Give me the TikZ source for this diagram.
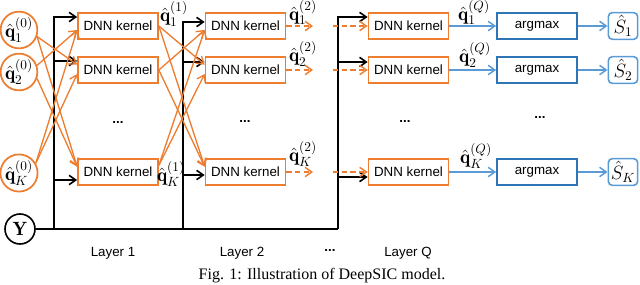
\documentclass[tikz,border=0pt]{standalone}
\usepackage{fontspec}
\setsansfont{Liberation Sans}
\newfontfamily\capfont{Liberation Serif}
\usepackage{xcolor}
\usepackage{tikz}
\usetikzlibrary{arrows.meta, positioning}

\definecolor{kerorange}{HTML}{ED7D31}
\definecolor{amblue}{HTML}{2E75B6}
\definecolor{arrblue}{HTML}{5B9BD5}
\newcommand{\qest}[2]{$\hat{\mathbf{q}}_{#1}^{(#2)}$}

\begin{document}
\begin{tikzpicture}[
  x=0.75pt, y=-0.75pt,
  >={Straight Barb[length=5pt,width=7pt]},
  font=\sffamily\fontsize{10}{12}\selectfont,
  kernel/.style={draw=kerorange, line width=1.3pt, minimum width=60pt, minimum height=19.5pt, inner sep=1pt},
  amax/.style={draw=amblue, line width=1.3pt, minimum width=60pt, minimum height=19.5pt, inner sep=1pt},
  sbox/.style={draw=arrblue, line width=1.2pt, rounded corners=3pt, minimum width=22pt, minimum height=20pt, inner sep=0pt, font=\Large},
  est/.style={circle, draw=kerorange, line width=1.3pt, minimum size=25.5pt, inner sep=0pt, font=\Large},
  ycirc/.style={circle, draw, line width=1.2pt, minimum size=22.5pt, inner sep=0pt, font=\Large},
  lab/.style={inner sep=0pt, font=\Large},
  bus/.style={line width=1.2pt},
  orline/.style={->, draw=kerorange, line width=1pt},
  dline/.style={->, draw=kerorange, line width=1.1pt, dash pattern=on 4pt off 2.5pt},
  blline/.style={->, draw=arrblue, line width=1.1pt}
]
\useasboundingbox (0,0) rectangle (640,285);

% inputs
\node[est] (q1) at (19,30) {\qest{1}{0}};
\node[est] (q2) at (19,72) {\qest{2}{0}};
\node[est] (qK) at (19,173) {\qest{K}{0}};
\node[ycirc] (Y) at (20,229) {$\mathbf{Y}$};

% kernels
\foreach \lay/\x in {1/118, 2/245.5, Q/408.5}{
  \node[kernel] (k\lay1) at (\x,26) {DNN kernel};
  \node[kernel] (k\lay2) at (\x,70) {DNN kernel};
  \node[kernel] (k\lay K) at (\x,172) {DNN kernel};
}

% output stage
\foreach \r/\y in {1/26, 2/70, K/172}{
  \node[amax] (am\r) at (537,\y) {argmax};
  \node[sbox] (s\r) at (623,\y) {$\hat{S}_\r$};
  \draw[blline] (kQ\r) -- (am\r);
  \draw[blline] (am\r) -- (s\r);
}

% Y bus
\coordinate (a11) at (54,17);
\coordinate (a12) at (54,61);
\coordinate (a1K) at (54,180);
\coordinate (a21) at (183,22);
\coordinate (a22) at (183,62);
\coordinate (a2K) at (183,175);
\coordinate (aQ1) at (338,17);
\coordinate (aQ2) at (338,62);
\coordinate (aQK) at (338,177);

\draw[bus] (Y) -- (aQ1 |- Y);
\foreach \lay in {1,2,Q}{
  \draw[bus, ->] (a\lay1 |- Y) -- (a\lay1) -- (a\lay1 -| k\lay1.west);
  \draw[bus, ->] (a\lay2) -- (a\lay2 -| k\lay2.west);
  \draw[bus, ->] (a\lay K) -- (a\lay K -| k\lay K.west);
}

% interference links
\foreach \src/\dst/\a/\b/\c in {1/2/-20/4pt/0pt, 1/K/-20/4pt/0pt, 2/1/20/-3pt/0pt,
                                2/K/-20/4pt/0pt, K/1/30/-3pt/5pt, K/2/30/-3pt/5pt}{
  \draw[orline] (q\src.\a) -- ([yshift=\b]k1\dst.west);
  \draw[orline] ([yshift=\c]k1\src.east) -- ([yshift=\b]k2\dst.west);
}

% layer 2 to layer Q
\coordinate (e1) at (313,26);
\coordinate (e2) at (313,70);
\coordinate (eK) at (313,172);
\coordinate (f1) at (333,26);
\coordinate (f2) at (333,70);
\coordinate (fK) at (333,172);
\foreach \r in {1,2,K}{
  \draw[dline] (k2\r) -- (e\r);
  \draw[dline] (f\r) -- (kQ\r);
}

% estimate labels
\node[lab] (l11) at (174,14) {\qest{1}{1}};
\node[lab] (l1K) at (171,174) {\qest{K}{1}};
\node[lab] (l21) at (303,12.5) {\qest{1}{2}};
\node[lab] (l22) at (303,54) {\qest{2}{2}};
\node[lab] (l2K) at (303,154) {\qest{K}{2}};
\node[lab] (lQ1) at (474,12.5) {\qest{1}{Q}};
\node[lab] (lQ2) at (475,55) {\qest{2}{Q}};
\node[lab] (lQK) at (476,156) {\qest{K}{Q}};

% dots
\node (d1) at (118,123) {\textbf{...}};
\node (d2) at (245,122) {\textbf{...}};
\node (dQ) at (405,122) {\textbf{...}};
\node (dA) at (540,118) {\textbf{...}};
\node (dL) at (330,251) {\textbf{...}};

% layer names
\node (lay1) at (113,253) {Layer 1};
\node (lay2) at (242,253) {Layer 2};
\node (layQ) at (408,253) {Layer Q};

\node[font=\capfont\fontsize{12}{14}\selectfont, anchor=north, inner sep=0pt] (cap) at (322,268) {Fig. 1: Illustration of DeepSIC model.};
\end{tikzpicture}
\end{document}
